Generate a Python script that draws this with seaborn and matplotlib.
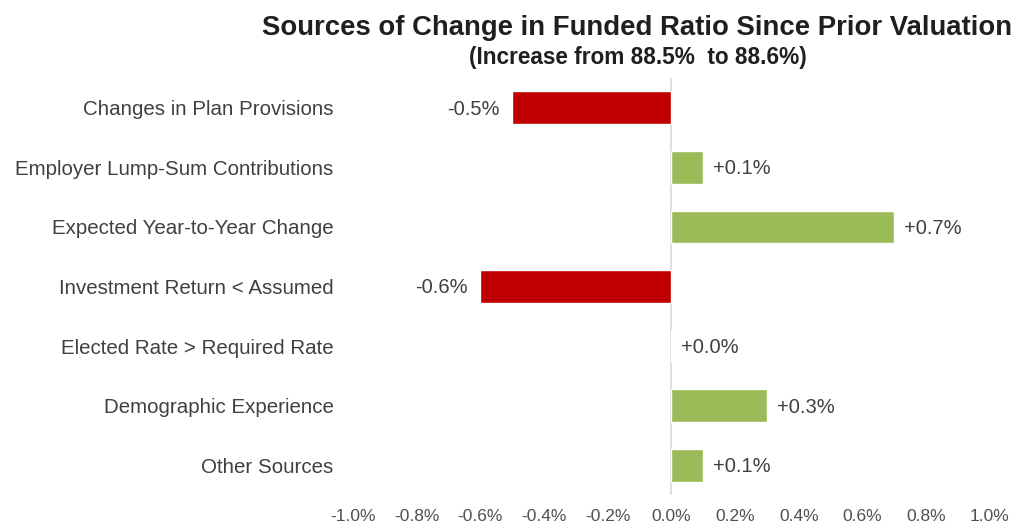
import matplotlib
matplotlib.use("Agg")
import matplotlib.pyplot as plt
import seaborn as sns

# Data
categories = [
    "Changes in Plan Provisions",
    "Employer Lump-Sum Contributions",
    "Expected Year-to-Year Change",
    "Investment Return < Assumed",
    "Elected Rate > Required Rate",
    "Demographic Experience",
    "Other Sources",
]
changes = [-0.5, 0.1, 0.7, -0.6, 0.0, 0.3, 0.1]
x_ticks = [-1.0, -0.8, -0.6, -0.4, -0.2, 0.0, 0.2, 0.4, 0.6, 0.8, 1.0]

title = "Sources of Change in Funded Ratio Since Prior Valuation"
subtitle = "(Increase from 88.5%  to 88.6%)"

RED = "#C00000"
GREEN = "#9BBB59"
TEXT = "#404040"

sns.set_style("white")
plt.rcParams["font.family"] = ["Liberation Sans", "DejaVu Sans"]

fig = plt.figure(figsize=(10.16, 5.24), dpi=100)
ax = fig.add_axes([0.3474, 0.0553, 0.627, 0.7958])

palette = {c: (GREEN if v >= 0 else RED) for c, v in zip(categories, changes)}
sns.barplot(x=changes, y=categories, hue=categories, palette=palette,
            legend=False, orient="h", width=0.55, saturation=1, ax=ax)

ax.set_xlim(-1.0, 1.0)
ax.set_ylim(len(categories) - 0.5, -0.5)
ax.set_xticks(x_ticks)
ax.set_xticklabels([f"{t:.1f}%" for t in x_ticks], fontsize=12.5, color="#505050")
ax.tick_params(axis="x", length=0, pad=10)
ax.tick_params(axis="y", length=0, pad=14, labelsize=14.8, labelcolor=TEXT)
ax.set_xlabel("")
ax.set_ylabel("")
for s in ax.spines.values():
    s.set_visible(False)
ax.axvline(0, color="#D9D9D9", lw=1.2, zorder=0)

# value labels
for i, v in enumerate(changes):
    off = 7 if v >= 0 else -9
    ax.annotate(f"{v:+.1f}%", xy=(v, i), xytext=(off, -1),
                textcoords="offset points", va="center",
                ha="left" if v >= 0 else "right",
                fontsize=14.5, color=TEXT)

fig.text(0.627, 0.946, title, ha="center", va="center",
         fontsize=19.8, fontweight="bold", color="#1F1F1F")
fig.text(0.628, 0.89, subtitle, ha="center", va="center",
         fontsize=16.3, fontweight="bold", color="#1F1F1F")

fig.savefig("out.png", dpi=100)
